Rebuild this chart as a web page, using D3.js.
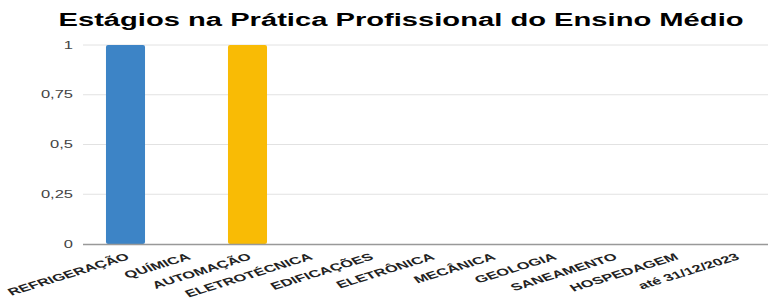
<!DOCTYPE html>
<html><head><meta charset="utf-8">
<script src="https://cdn.jsdelivr.net/npm/d3@7"></script>
<style>html,body{margin:0;padding:0;background:#fff;}svg{display:block;}</style>
</head><body>
<svg id="c" width="768" height="302"></svg>
<script>
const categories = ["REFRIGERAÇÃO","QUÍMICA","AUTOMAÇÃO","ELETROTÉCNICA","EDIFICAÇÕES","ELETRÔNICA","MECÂNICA","GEOLOGIA","SANEAMENTO","HOSPEDAGEM","até 31/12/2023"];
const values = [1,0,1,0,0,0,0,0,0,0,0];
const barColors = ["#3d84c6","#e94335","#f9bb05","#34a853","#ff6d01","#46bdc6","#7baaf7","#f07b72","#fcd04f","#71c287","#ff994d"];
const yTicks = [0,0.25,0.5,0.75,1];
const yTickLabels = ["0","0,25","0,5","0,75","1"];
const title = "Estágios na Prática Profissional do Ensino Médio";

const SX = 1.65; // horizontal stretch of the reference picture
const FONT = "Liberation Sans, Arial, sans-serif";
const svg = d3.select("#c");
const x = d3.scaleBand().domain(categories).range([95,766]).paddingInner(0.36).paddingOuter(0.18);
const y = d3.scaleLinear().domain([0,1]).range([244,45]);

svg.append("text").attr("transform",`translate(401,26) scale(1.62,1)`).attr("text-anchor","middle")
  .attr("font-family",FONT).attr("font-weight","bold")
  .attr("font-size",18).attr("fill","#000").text(title);

svg.append("g").selectAll("line").data(yTicks.filter(d=>d>0)).join("line")
  .attr("x1",83).attr("x2",768).attr("y1",d=>y(d)).attr("y2",d=>y(d))
  .attr("stroke","#e2e2e2").attr("stroke-width",1);

svg.append("g").selectAll("text").data(yTicks).join("text")
  .attr("transform",d=>`translate(73,${y(d)+3.5}) scale(${SX},1)`).attr("text-anchor","end")
  .attr("font-family",FONT).attr("font-size",10).attr("fill","#444")
  .text((d,i)=>yTickLabels[i]);

svg.append("g").selectAll("rect").data(categories).join("rect")
  .attr("x",d=>x(d)).attr("width",x.bandwidth())
  .attr("y",(d,i)=>y(values[i])).attr("height",(d,i)=>y(0)-y(values[i]))
  .attr("rx",2).attr("fill",(d,i)=>barColors[i]);

svg.append("line").attr("x1",83).attr("x2",768).attr("y1",y(0)+0.5).attr("y2",y(0)+0.5)
  .attr("stroke","#999").attr("stroke-width",1.5);

svg.append("g").selectAll("text").data(categories).join("text")
  .attr("transform",d=>`translate(${x(d)+x.bandwidth()/2+5},${y(0)+15}) scale(${SX},1) rotate(-27)`)
  .attr("text-anchor","end")
  .attr("font-family",FONT).attr("font-weight","bold")
  .attr("font-size",10).attr("fill","#222").text(d=>d);
</script>
</body></html>
